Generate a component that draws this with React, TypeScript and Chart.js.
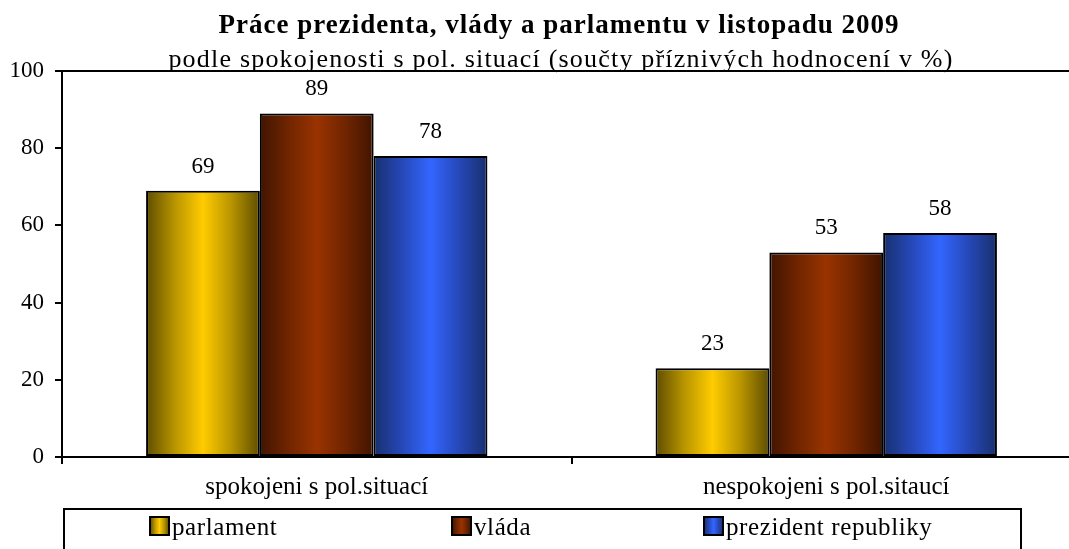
import React, { useEffect, useRef } from "react";
import { Chart, registerables } from "chart.js";

Chart.register(...registerables);

const categories = ["spokojeni s pol.situací", "nespokojeni s pol.sitaucí"];
const seriesNames = ["parlament", "vláda", "prezident republiky"];
const parlament = [69, 23];
const vlada = [89, 53];
const prezident = [78, 58];
const yTickStep = 20;
const yMin = 0;
const yMax = 100;
const titleText = "Práce prezidenta, vlády a parlamentu v listopadu 2009";
const subtitleText = "podle spokojenosti s pol. situací (součty příznivých hodnocení v %)";

const seriesGradients = [
  ["#5e4d00", "#b89400", "#ffcc00", "#b89400", "#5e4d00"],
  ["#401400", "#702500", "#993300", "#702500", "#401400"],
  ["#18306e", "#2648b8", "#3366ff", "#2648b8", "#18306e"],
];

const FONT = "'Liberation Serif', 'Times New Roman', serif";
const CANVAS_W = 1090;
const CANVAS_H = 549;

function makeGradient(ctx: CanvasRenderingContext2D, x0: number, x1: number, stops: string[]) {
  const g = ctx.createLinearGradient(x0, 0, x1, 0);
  const pos = [0, 0.25, 0.5, 0.75, 1];
  stops.forEach((c, i) => g.addColorStop(pos[i], c));
  return g;
}

const gradientPlugin = {
  id: "barGradient",
  beforeDatasetsDraw(chart: any) {
    const ctx = chart.ctx;
    chart.data.datasets.forEach((_ds: any, i: number) => {
      const meta = chart.getDatasetMeta(i);
      meta.data.forEach((bar: any) => {
        const { x, width } = bar.getProps(["x", "width"], true);
        const g = makeGradient(ctx, x - width / 2, x + width / 2, seriesGradients[i]);
        bar.options = { ...bar.options, backgroundColor: g };
      });
    });
  },
};

const framePlugin = {
  id: "frame",
  beforeDatasetsDraw(chart: any) {
    const { ctx, chartArea } = chart;
    ctx.save();
    ctx.strokeStyle = "#000";
    ctx.lineWidth = 2;
    ctx.beginPath();
    ctx.moveTo(chartArea.left - 1, chartArea.top);
    ctx.lineTo(chartArea.right, chartArea.top);
    ctx.lineTo(chartArea.right, chartArea.bottom);
    ctx.stroke();
    ctx.restore();
  },
};

const valueLabelPlugin = {
  id: "valueLabels",
  afterDatasetsDraw(chart: any) {
    const ctx = chart.ctx;
    ctx.save();
    ctx.font = `23px ${FONT}`;
    ctx.textAlign = "center";
    ctx.textBaseline = "alphabetic";
    chart.data.datasets.forEach((ds: any, i: number) => {
      const meta = chart.getDatasetMeta(i);
      meta.data.forEach((bar: any, j: number) => {
        const { x, y } = bar.getProps(["x", "y"], true);
        const txt = String(ds.data[j]);
        const w = ctx.measureText(txt).width;
        const base = y - 18;
        ctx.fillStyle = "#fff";
        ctx.fillRect(x - w / 2 - 6, base - 22, w + 12, 28);
        ctx.fillStyle = "#000";
        ctx.fillText(txt, x, base);
      });
    });
    ctx.restore();
  },
};

const titlePlugin = {
  id: "titles",
  afterDraw(chart: any) {
    const ctx = chart.ctx;
    ctx.save();
    ctx.fillStyle = "#000";
    ctx.textAlign = "left";
    ctx.textBaseline = "alphabetic";
    ctx.font = `bold 27px ${FONT}`;
    (ctx as any).letterSpacing = "1px";
    const tw = ctx.measureText(titleText).width;
    ctx.fillText(titleText, 559 - tw / 2, 33);
    ctx.font = `26px ${FONT}`;
    (ctx as any).letterSpacing = "1.2px";
    const sw = ctx.measureText(subtitleText).width;
    ctx.fillText(subtitleText, 561 - sw / 2, 67);
    ctx.restore();
  },
};

const legendPlugin = {
  id: "boxLegend",
  afterDraw(chart: any) {
    const { ctx, chartArea } = chart;
    const left = chartArea.left + 2;
    const top = 509;
    const right = 1021;
    ctx.save();
    ctx.strokeStyle = "#000";
    ctx.lineWidth = 2;
    ctx.strokeRect(left, top, right - left, 60);
    const itemX = [150, 452, 704];
    ctx.font = `25px ${FONT}`;
    (ctx as any).letterSpacing = "0.6px";
    ctx.textBaseline = "alphabetic";
    ctx.textAlign = "left";
    seriesNames.forEach((name, i) => {
      const bx = itemX[i];
      const by = 517;
      const bw = 19;
      const bh = 18;
      ctx.fillStyle = makeGradient(ctx, bx, bx + bw, seriesGradients[i]);
      ctx.fillRect(bx, by, bw, bh);
      ctx.lineWidth = 2;
      ctx.strokeStyle = "#000";
      ctx.strokeRect(bx, by, bw, bh);
      ctx.fillStyle = "#000";
      ctx.fillText(name, bx + bw + 3, 535);
    });
    ctx.restore();
  },
};

function App() {
  const ref = useRef<HTMLCanvasElement | null>(null);

  useEffect(() => {
    if (!ref.current) return;
    const colors = ["#ffcc00", "#993300", "#3366ff"];
    const values = [parlament, vlada, prezident];
    const chart = new Chart(ref.current, {
      type: "bar",
      data: {
        labels: categories,
        datasets: seriesNames.map((name, i) => ({
          label: name,
          data: values[i],
          backgroundColor: colors[i],
          borderColor: "#000",
          borderWidth: 2,
          borderSkipped: false,
          barPercentage: 1,
          categoryPercentage: 0.67,
        })),
      },
      options: {
        responsive: false,
        animation: false,
        devicePixelRatio: 1,
        layout: { padding: { top: 71, right: CANVAS_W - 1081, left: 0, bottom: 0 } },
        plugins: {
          legend: { display: false },
          title: { display: false },
          tooltip: { enabled: false },
        },
        scales: {
          x: {
            offset: true,
            grid: {
              offset: true,
              drawOnChartArea: false,
              drawTicks: true,
              tickLength: 7,
              color: "#000",
              lineWidth: 2,
            },
            border: { display: true, color: "#000", width: 2 },
            ticks: {
              color: "#000",
              font: { family: FONT, size: 25 },
              padding: 8,
              maxRotation: 0,
            },
            afterFit: (s: any) => {
              s.height = 92;
            },
          },
          y: {
            min: yMin,
            max: yMax,
            ticks: {
              stepSize: yTickStep,
              color: "#000",
              font: { family: FONT, size: 23 },
              padding: 11,
            },
            grid: {
              drawOnChartArea: false,
              drawTicks: true,
              tickLength: 7,
              color: "#000",
              lineWidth: 2,
            },
            border: { display: true, color: "#000", width: 2 },
            afterFit: (s: any) => {
              s.width = 62;
            },
          },
        },
      },
      plugins: [gradientPlugin, framePlugin, valueLabelPlugin, titlePlugin, legendPlugin],
    });
    return () => chart.destroy();
  }, []);

  return (
    <div style={{ position: "fixed", left: 0, top: 0, width: "100vw", height: "100vh", overflow: "hidden", background: "#fff" }}>
      <canvas ref={ref} width={CANVAS_W} height={CANVAS_H} style={{ display: "block" }} />
    </div>
  );
}

export default App;
